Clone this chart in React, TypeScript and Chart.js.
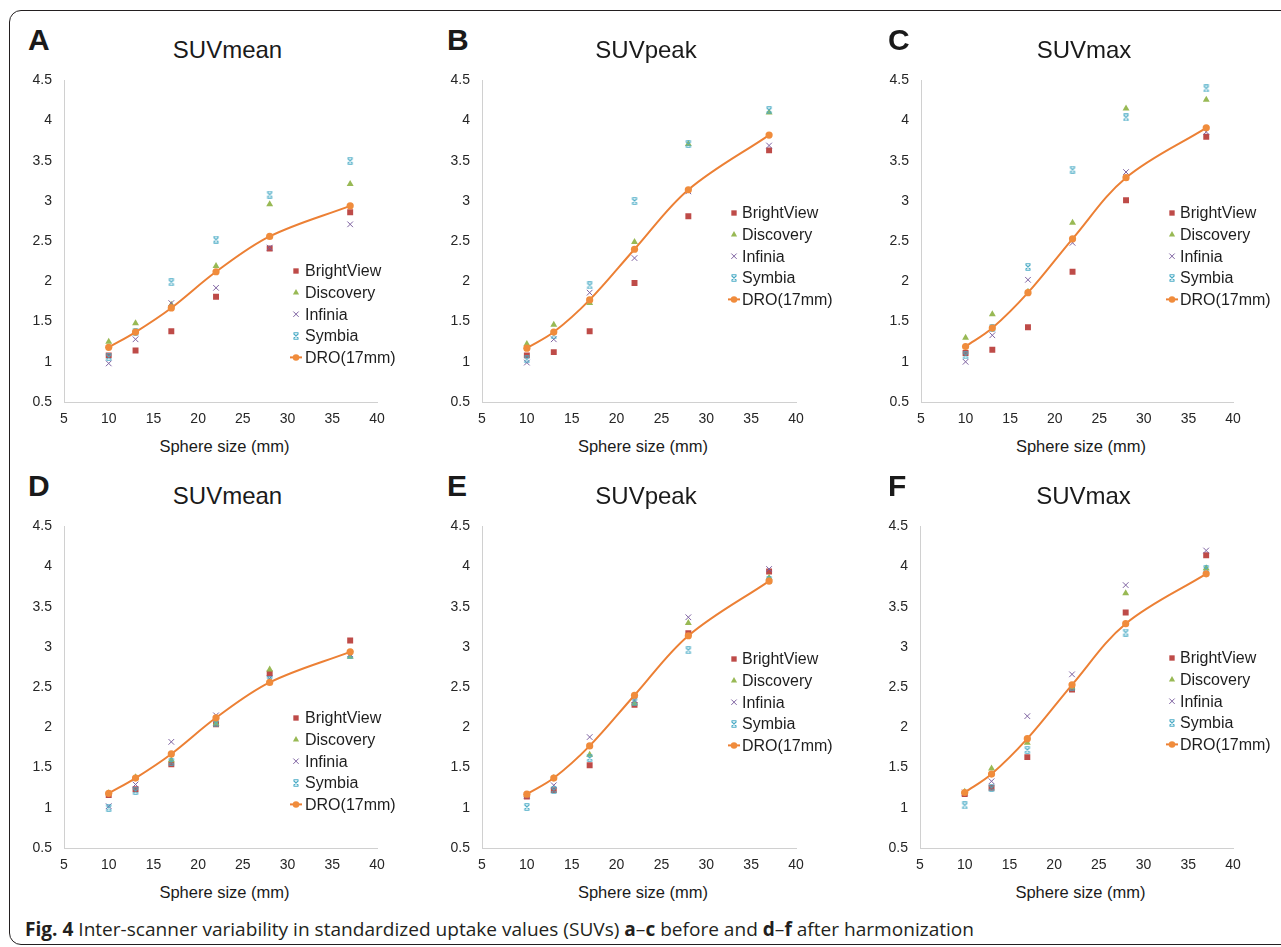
import React, { useEffect, useRef, useLayoutEffect } from 'react';
import { Chart, registerables } from 'chart.js';
Chart.register(...registerables);

const FONT = '"Liberation Sans", Arial, Helvetica, sans-serif';

// ---------- data ----------
const sphereSizes = [10, 13, 17, 22, 28, 37];
const seriesNames = ['BrightView', 'Discovery', 'Infinia', 'Symbia', 'DRO(17mm)'];
const xAxisTitle = 'Sphere size (mm)';

// DRO reference curves (same before / after)
const droMean = [1.18, 1.37, 1.67, 2.12, 2.56, 2.94];
const droPeak = [1.17, 1.37, 1.77, 2.40, 3.14, 3.82];
const droMax = [1.19, 1.42, 1.86, 2.53, 3.29, 3.91];

// A: SUVmean before
const aBrightView = [1.08, 1.14, 1.38, 1.81, 2.41, 2.86];
const aDiscovery = [1.25, 1.48, 1.71, 2.19, 2.96, 3.21];
const aInfinia = [0.98, 1.28, 1.73, 1.92, 2.42, 2.71];
const aSymbia = [1.06, 1.37, 1.99, 2.52, 3.08, 3.50];
// B: SUVpeak before
const bBrightView = [1.08, 1.12, 1.38, 1.98, 2.81, 3.63];
const bDiscovery = [1.22, 1.46, 1.73, 2.49, 3.71, 4.10];
const bInfinia = [0.99, 1.28, 1.86, 2.29, 3.12, 3.69];
const bSymbia = [1.03, 1.33, 1.95, 3.00, 3.71, 4.13];
// C: SUVmax before
const cBrightView = [1.11, 1.15, 1.43, 2.12, 3.01, 3.80];
const cDiscovery = [1.30, 1.59, 1.87, 2.73, 4.15, 4.26];
const cInfinia = [1.00, 1.33, 2.02, 2.48, 3.36, 3.86];
const cSymbia = [1.08, 1.42, 2.18, 3.39, 4.04, 4.40];
// D: SUVmean after
const dBrightView = [1.16, 1.23, 1.54, 2.04, 2.67, 3.08];
const dDiscovery = [1.18, 1.38, 1.59, 2.05, 2.72, 2.88];
const dInfinia = [1.02, 1.29, 1.82, 2.15, 2.61, 2.91];
const dSymbia = [1.00, 1.21, 1.57, 2.05, 2.59, 2.90];
// E: SUVpeak after
const eBrightView = [1.14, 1.22, 1.53, 2.28, 3.17, 3.94];
const eDiscovery = [1.16, 1.37, 1.66, 2.30, 3.30, 3.86];
const eInfinia = [1.15, 1.28, 1.88, 2.34, 3.37, 3.97];
const eSymbia = [1.01, 1.22, 1.62, 2.32, 2.96, 3.83];
// F: SUVmax after
const fBrightView = [1.17, 1.25, 1.63, 2.47, 3.43, 4.14];
const fDiscovery = [1.20, 1.49, 1.81, 2.50, 3.67, 3.98];
const fInfinia = [1.19, 1.33, 2.14, 2.66, 3.77, 4.20];
const fSymbia = [1.03, 1.25, 1.72, 2.50, 3.18, 3.97];

// ---------- styles ----------
const C_BV = '#BE4B48';
const C_DISC = '#98B954';
const C_INF = '#7E62A1';
const C_SYM = '#4BACC6';
const C_DRO = '#F08C3C';
const C_DRO_LINE = '#EC8035';

interface PanelDef {
  letter: string;
  title: string;
  series: number[][];
  dro: number[];
  plot: { l: number; t: number; r: number; b: number };
  legend: { mx: number; y0: number; tx: number };
}

const panels: PanelDef[] = [
  { letter: 'A', title: 'SUVmean', series: [aBrightView, aDiscovery, aInfinia, aSymbia], dro: droMean,
    plot: { l: 64, t: 71, r: 377, b: 402 }, legend: { mx: 296, y0: 271, tx: 305 } },
  { letter: 'B', title: 'SUVpeak', series: [bBrightView, bDiscovery, bInfinia, bSymbia], dro: droPeak,
    plot: { l: 482, t: 71, r: 796, b: 402 }, legend: { mx: 734, y0: 213, tx: 742 } },
  { letter: 'C', title: 'SUVmax', series: [cBrightView, cDiscovery, cInfinia, cSymbia], dro: droMax,
    plot: { l: 921, t: 71, r: 1233, b: 402 }, legend: { mx: 1172, y0: 213, tx: 1180 } },
  { letter: 'D', title: 'SUVmean', series: [dBrightView, dDiscovery, dInfinia, dSymbia], dro: droMean,
    plot: { l: 64, t: 517, r: 377, b: 848 }, legend: { mx: 296, y0: 718, tx: 305 } },
  { letter: 'E', title: 'SUVpeak', series: [eBrightView, eDiscovery, eInfinia, eSymbia], dro: droPeak,
    plot: { l: 482, t: 517, r: 796, b: 848 }, legend: { mx: 734, y0: 659, tx: 742 } },
  { letter: 'F', title: 'SUVmax', series: [fBrightView, fDiscovery, fInfinia, fSymbia], dro: droMax,
    plot: { l: 920, t: 517, r: 1233, b: 848 }, legend: { mx: 1172, y0: 658, tx: 1180 } },
];

const Y_AXIS_W = 44;
const TOP_PAD = 11;
const X_AXIS_H = 30;
const RIGHT_PAD = 70;

let symbiaMarker: HTMLCanvasElement | null = null;
function getSymbiaMarker() {
  if (symbiaMarker) return symbiaMarker;
  const c = document.createElement('canvas');
  c.width = 8;
  c.height = 8;
  const g = c.getContext('2d')!;
  g.strokeStyle = C_SYM;
  g.lineWidth = 1.1;
  g.beginPath();
  g.moveTo(1.5, 1.5); g.lineTo(6.5, 6.5);
  g.moveTo(6.5, 1.5); g.lineTo(1.5, 6.5);
  g.moveTo(1.5, 0.7); g.lineTo(6.5, 0.7);
  g.moveTo(1.5, 7.3); g.lineTo(6.5, 7.3);
  g.stroke();
  symbiaMarker = c;
  return c;
}

function drawMarker(ctx: CanvasRenderingContext2D, ds: any, x: number, y: number) {
  const st = ds.pointStyle;
  const r = (ds.pointRadius || 3) * 0.9;
  if (ds.showLine) {
    ctx.strokeStyle = ds.borderColor;
    ctx.lineWidth = ds.borderWidth;
    ctx.beginPath();
    ctx.moveTo(x - 6, y);
    ctx.lineTo(x + 6, y);
    ctx.stroke();
  }
  if (st === 'rect') {
    const s = r * Math.SQRT1_2;
    ctx.fillStyle = ds.pointBackgroundColor;
    ctx.fillRect(x - s, y - s, 2 * s, 2 * s);
  } else if (st === 'triangle') {
    ctx.fillStyle = ds.pointBackgroundColor;
    ctx.beginPath();
    ctx.moveTo(x, y - r);
    ctx.lineTo(x + r * 0.866, y + r * 0.5);
    ctx.lineTo(x - r * 0.866, y + r * 0.5);
    ctx.closePath();
    ctx.fill();
  } else if (st === 'crossRot') {
    const s = r * 0.75;
    ctx.strokeStyle = ds.pointBorderColor;
    ctx.lineWidth = 1;
    ctx.beginPath();
    ctx.moveTo(x - s, y - s); ctx.lineTo(x + s, y + s);
    ctx.moveTo(x + s, y - s); ctx.lineTo(x - s, y + s);
    ctx.stroke();
  } else if (st === 'circle') {
    ctx.fillStyle = ds.pointBackgroundColor;
    ctx.beginPath();
    ctx.arc(x, y, r, 0, Math.PI * 2);
    ctx.fill();
  } else if (st && st.width) {
    ctx.drawImage(st, Math.round(x - st.width / 2), Math.round(y - st.height / 2));
  }
}

const panelLegend = {
  id: 'panelLegend',
  afterDatasetsDraw(chart: any, _args: any, opts: any) {
    const ctx: CanvasRenderingContext2D = chart.ctx;
    ctx.save();
    ctx.font = `16px ${FONT}`;
    ctx.textBaseline = 'middle';
    ctx.textAlign = 'left';
    chart.data.datasets.forEach((ds: any, i: number) => {
      const y = opts.y0 + i * opts.dy;
      drawMarker(ctx, ds, opts.mx, y);
      ctx.fillStyle = '#1e1e1e';
      ctx.fillText(ds.label, opts.tx, y + 1);
    });
    ctx.restore();
  },
};

function toPoints(vals: number[]) {
  return sphereSizes.map((x, i) => ({ x, y: vals[i] }));
}

function PanelChart({ p }: { p: PanelDef }) {
  const ref = useRef<HTMLCanvasElement>(null);
  const left = p.plot.l - Y_AXIS_W;
  const top = p.plot.t - TOP_PAD;
  const w = p.plot.r - p.plot.l + Y_AXIS_W + RIGHT_PAD;
  const h = p.plot.b - p.plot.t + TOP_PAD + X_AXIS_H;

  useEffect(() => {
    const sym = getSymbiaMarker();
    const [bv, disc, inf, sy] = p.series;
    const datasets: any[] = [
      { label: seriesNames[0], data: toPoints(bv), showLine: false, order: 4,
        pointStyle: 'rect', pointRadius: 4.2, pointBackgroundColor: C_BV, pointBorderColor: C_BV, pointBorderWidth: 0,
        borderColor: C_BV, backgroundColor: C_BV },
      { label: seriesNames[1], data: toPoints(disc), showLine: false, order: 3,
        pointStyle: 'triangle', pointRadius: 4, pointBackgroundColor: C_DISC, pointBorderColor: C_DISC, pointBorderWidth: 0,
        borderColor: C_DISC, backgroundColor: C_DISC },
      { label: seriesNames[2], data: toPoints(inf), showLine: false, order: 2,
        pointStyle: 'crossRot', pointRadius: 4, pointBackgroundColor: C_INF, pointBorderColor: C_INF, pointBorderWidth: 1,
        borderColor: C_INF, backgroundColor: C_INF },
      { label: seriesNames[3], data: toPoints(sy), showLine: false, order: 1,
        pointStyle: sym, pointRadius: 4, pointBackgroundColor: C_SYM, pointBorderColor: C_SYM,
        borderColor: C_SYM, backgroundColor: C_SYM },
      { label: seriesNames[4], data: toPoints(p.dro), showLine: true, order: 0,
        borderColor: C_DRO_LINE, borderWidth: 2, tension: 0.35,
        pointStyle: 'circle', pointRadius: 3.6, pointBackgroundColor: C_DRO, pointBorderColor: C_DRO, pointBorderWidth: 0,
        backgroundColor: C_DRO },
    ];
    const tickFont = { family: FONT, size: 14 };
    const chart = new Chart(ref.current!, {
      type: 'line',
      data: { datasets },
      plugins: [panelLegend],
      options: {
        responsive: false,
        animation: false,
        devicePixelRatio: 1,
        layout: { padding: { top: TOP_PAD, right: RIGHT_PAD, left: 0, bottom: 0 } },
        plugins: {
          legend: { display: false },
          tooltip: { enabled: false },
          title: { display: false },
          panelLegend: {
            mx: p.legend.mx - left,
            y0: p.legend.y0 - top,
            tx: p.legend.tx - left,
            dy: 21.6,
          },
        } as any,
        scales: {
          x: {
            type: 'linear',
            min: 5,
            max: 40,
            ticks: { stepSize: 5, padding: 9, color: '#262626', font: tickFont, maxRotation: 0,
              callback: (v: any) => String(v) },
            grid: { display: false, drawTicks: false },
            border: { display: true, color: '#D0D0D0', width: 1 },
            afterFit: (s: any) => { s.height = X_AXIS_H; },
          },
          y: {
            type: 'linear',
            min: 0.5,
            max: 4.5,
            ticks: { stepSize: 0.5, padding: 12, color: '#262626', font: tickFont,
              callback: (v: any) => String(v) },
            grid: { display: false, drawTicks: false },
            border: { display: true, color: '#D0D0D0', width: 1 },
            afterFit: (s: any) => { s.width = Y_AXIS_W; },
          },
        },
      } as any,
    });
    return () => chart.destroy();
  }, []);

  return (
    <canvas
      ref={ref}
      width={w}
      height={h}
      style={{ position: 'absolute', left, top, width: w, height: h }}
    />
  );
}

function Txt(props: { x: number; baseline: number; size: number; bold?: boolean; center?: boolean; children: any; family?: string; k?: number }) {
  const k = props.k ?? 0.8465;
  const top = props.baseline - k * props.size;
  const style: any = {
    position: 'absolute',
    top,
    fontFamily: props.family || FONT,
    fontSize: props.size,
    lineHeight: 1,
    fontWeight: props.bold ? 'bold' : 'normal',
    whiteSpace: 'nowrap',
    color: '#1a1a1a',
  };
  if (props.center) {
    style.left = props.x - 300;
    style.width = 600;
    style.textAlign = 'center';
  } else {
    style.left = props.x;
  }
  return <div style={style}>{props.children}</div>;
}

function Caption() {
  const ref = useRef<HTMLDivElement>(null);
  useLayoutEffect(() => {
    const el = ref.current!;
    const w = el.getBoundingClientRect().width;
    if (w > 0) el.style.transform = `scaleX(${949 / w})`;
  }, []);
  const size = 19;
  return (
    <div
      ref={ref}
      style={{
        position: 'absolute',
        left: 25,
        top: 937 - 0.888 * size,
        fontFamily: '"Open Sans", "Noto Sans", sans-serif',
        fontSize: size,
        lineHeight: 1,
        whiteSpace: 'nowrap',
        color: '#231f20',
        transformOrigin: '0 0',
      }}
    >
      <b>Fig. 4</b> Inter-scanner variability in standardized uptake values (SUVs) <b>a</b>–<b>c</b> before and{' '}
      <b>d</b>–<b>f</b> after harmonization
    </div>
  );
}

export default function App() {
  const letterX = [28, 447, 888];
  const titleOffset = 7;
  const axisTitleOffset = 4;
  return (
    <div style={{ position: 'fixed', left: 0, top: 0, width: 1281, height: 947, overflow: 'hidden', background: '#fff' }}>
      <div
        style={{
          position: 'absolute',
          left: 9,
          top: 10,
          width: 1320,
          height: 935,
          border: '1.5px solid #231f20',
          borderRadius: 12,
          boxSizing: 'border-box',
        }}
      />
      {panels.map((p, i) => {
        const row = i < 3 ? 0 : 1;
        const dyRow = row * 446;
        const cx = (p.plot.l + p.plot.r) / 2;
        return (
          <React.Fragment key={p.letter}>
            <Txt x={letterX[i % 3]} baseline={50 + dyRow} size={30} bold>{p.letter}</Txt>
            <Txt x={cx + titleOffset} baseline={58 + dyRow} size={24} center>{p.title}</Txt>
            <PanelChart p={p} />
            <Txt x={cx + axisTitleOffset} baseline={452 + dyRow} size={16.5} center>{xAxisTitle}</Txt>
          </React.Fragment>
        );
      })}
      <Caption />
    </div>
  );
}
